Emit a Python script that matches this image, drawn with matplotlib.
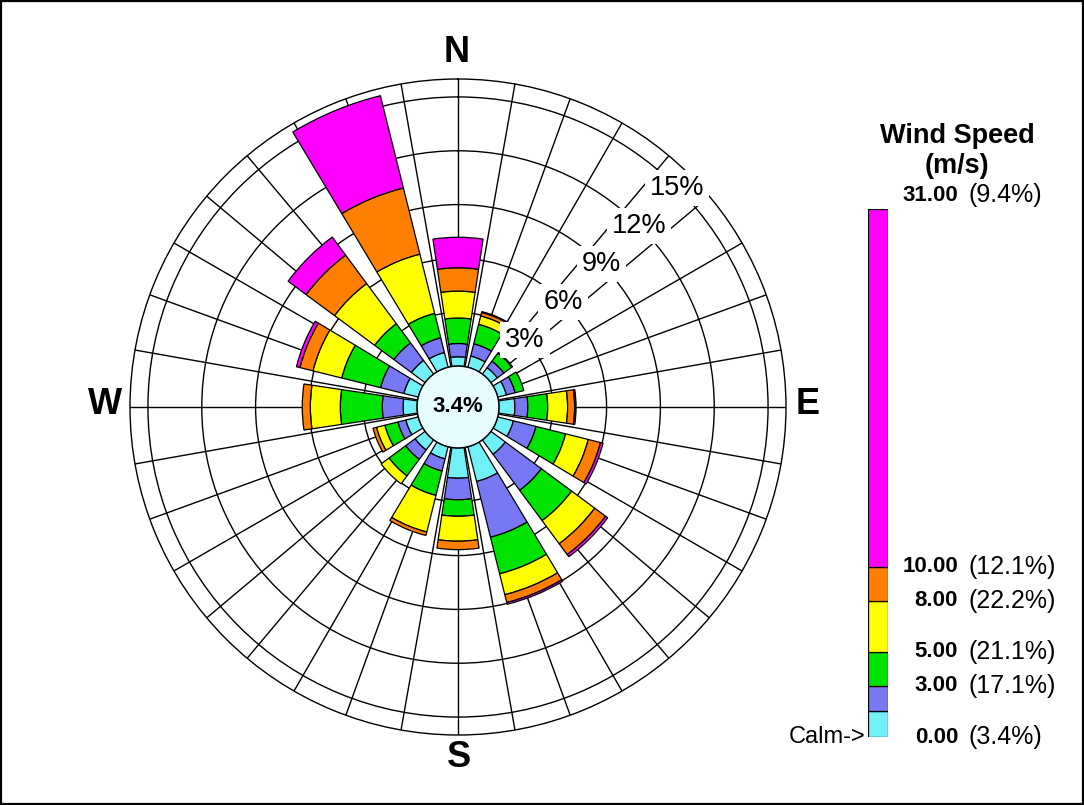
import numpy as np
import matplotlib
matplotlib.use("Agg")
import matplotlib.pyplot as plt
from matplotlib.patches import Circle, Rectangle
from matplotlib.transforms import blended_transform_factory

plt.rcParams['font.family'] = ['Liberation Sans', 'DejaVu Sans']

# ---- data -------------------------------------------------------------
directions = ['N', 'NNE', 'NE', 'ENE', 'E', 'ESE', 'SE', 'SSE',
              'S', 'SSW', 'SW', 'WSW', 'W', 'WNW', 'NW', 'NNW']
direction_deg = [0, 22.5, 45, 67.5, 90, 112.5, 135, 157.5,
                 180, 202.5, 225, 247.5, 270, 292.5, 315, 337.5]

calm_pct = 3.4

# frequency (%) of each wind-speed class per direction
speed_0_15 = [0.52, 0.65, 0.45, 0.50, 0.89, 0.90, 1.00, 2.00,
              1.69, 0.70, 0.70, 0.72, 0.78, 0.83, 0.95, 0.85]
speed_15_3 = [0.74, 0.70, 0.45, 0.50, 0.72, 1.30, 2.50, 3.20,
              1.20, 0.70, 0.65, 0.45, 1.16, 1.34, 1.22, 0.85]
speed_3_5 = [1.42, 1.12, 0.55, 0.50, 1.11, 1.70, 2.10, 2.10,
             0.92, 1.40, 1.15, 0.75, 2.34, 2.23, 1.33, 1.40]
speed_5_8 = [1.50, 0.48, 0.05, 0.00, 1.11, 1.30, 1.60, 1.20,
             1.39, 2.10, 0.55, 0.48, 1.67, 1.65, 2.78, 3.40]
speed_8_10 = [1.30, 0.20, 0.00, 0.00, 0.39, 0.70, 0.75, 0.45,
              0.47, 0.20, 0.00, 0.20, 0.45, 0.75, 1.97, 3.80]
speed_10_plus = [1.70, 0.05, 0.00, 0.00, 0.08, 0.15, 0.15, 0.10,
                 0.00, 0.00, 0.00, 0.00, 0.00, 0.20, 1.25, 5.30]

class_values = [speed_0_15, speed_15_3, speed_3_5, speed_5_8, speed_8_10, speed_10_plus]
class_colors = ['#72F0F8', '#7878F4', '#00E200', '#FFFF00', '#FF7F00', '#FF00FF']

# legend scale (m/s) and class shares
legend_edges = [0.0, 1.5, 3.0, 5.0, 8.0, 10.0, 31.0]
legend_ticks = [0.0, 3.0, 5.0, 8.0, 10.0, 31.0]
legend_pcts = ['3.4%', '17.1%', '21.1%', '22.2%', '12.1%', '9.4%']

ring_levels = [3, 6, 9, 12, 15]

# ---- figure -----------------------------------------------------------
W, H = 1084, 805
fig = plt.figure(figsize=(W / 100, H / 100), dpi=100)
fig.patch.set_facecolor('white')

def px_rect(x0, y0, x1, y1):
    return [x0 / W, 1 - y1 / H, (x1 - x0) / W, (y1 - y0) / H]

ax = fig.add_axes(px_rect(130, 79, 786, 735), projection='polar')
ax.set_theta_zero_location('N')
ax.set_theta_direction(-1)
r_max = 16.0
r_origin = -2.28
ax.set_ylim(0, r_max)
ax.set_rorigin(r_origin)

ax.set_thetagrids(np.arange(0, 360, 10), labels=[''] * 36)
ax.set_rgrids(ring_levels, labels=[''] * len(ring_levels))
ax.grid(True, color='black', linewidth=1.0)
ax.set_axisbelow(True)
for sp in ax.spines.values():
    sp.set_linewidth(1.0)
    sp.set_color('black')
ax.tick_params(length=0)

theta = np.radians(direction_deg)
bar_width = np.radians(17)
bottom = np.zeros(len(directions))
for vals, col in zip(class_values, class_colors):
    vals = np.asarray(vals)
    mask = vals > 0
    ax.bar(theta[mask], vals[mask], width=bar_width, bottom=bottom[mask],
           color=col, edgecolor='black', linewidth=0.9, zorder=3)
    bottom = bottom + vals

# calm circle in the middle
hole = 0.5 * (-r_origin) / (r_max - r_origin)
ax.add_patch(Circle((0.5, 0.5), hole, transform=ax.transAxes,
                    facecolor='#E6FCFF', edgecolor='black', linewidth=1.0,
                    zorder=4, clip_on=False))
ax.text(0.5, 0.5, f'{calm_pct}%', transform=ax.transAxes, ha='center',
        va='center', fontsize=16, fontweight='bold', zorder=5)

# ring labels along the north-east diagonal
for lv in ring_levels:
    ax.text(np.radians(45), lv, f'{lv}%', ha='center', va='center',
            fontsize=19.5, zorder=5,
            bbox=dict(facecolor='white', edgecolor='none', pad=3.5))

# compass letters
for lab, x, y in [('N', 457, 52), ('S', 459, 757), ('W', 105, 405), ('E', 808, 404)]:
    fig.text(x / W, 1 - y / H, lab, ha='center', va='center',
             fontsize=26, fontweight='bold')

# ---- speed legend -----------------------------------------------------
cb = fig.add_axes(px_rect(868, 209, 888, 737))
heights = np.diff(legend_edges)
cb.bar(0, heights, bottom=legend_edges[:-1], width=1.0, color=class_colors,
       edgecolor='black', linewidth=0.9)
cb.set_xlim(-0.5, 0.5)
cb.set_ylim(0, 31)
cb.axis('off')

tr = blended_transform_factory(fig.transFigure, cb.transData)
for val, pct in zip(legend_ticks, legend_pcts):
    y = val + (0.8 if val == legend_edges[-1] else 0.0)
    cb.text(958 / W, y, f'{val:.2f}', transform=tr, ha='right', va='center',
            fontsize=16, fontweight='bold', clip_on=False)
    cb.text(969 / W, y, f'({pct})', transform=tr, ha='left', va='center',
            fontsize=18, clip_on=False)
cb.text(865 / W, 0.0, 'Calm->', transform=tr, ha='right', va='center',
        fontsize=17, clip_on=False)

fig.text(957 / W, 1 - 136 / H, 'Wind Speed', ha='center', va='center',
         fontsize=19.5, fontweight='bold')
fig.text(957 / W, 1 - 166 / H, '(m/s)', ha='center', va='center',
         fontsize=19.5, fontweight='bold')

# outer frame
fig.add_artist(Rectangle((0.001, 0.001), 0.998, 0.998, transform=fig.transFigure,
                         fill=False, edgecolor='black', linewidth=1.6))

fig.savefig('out.png', dpi=100, facecolor='white')
